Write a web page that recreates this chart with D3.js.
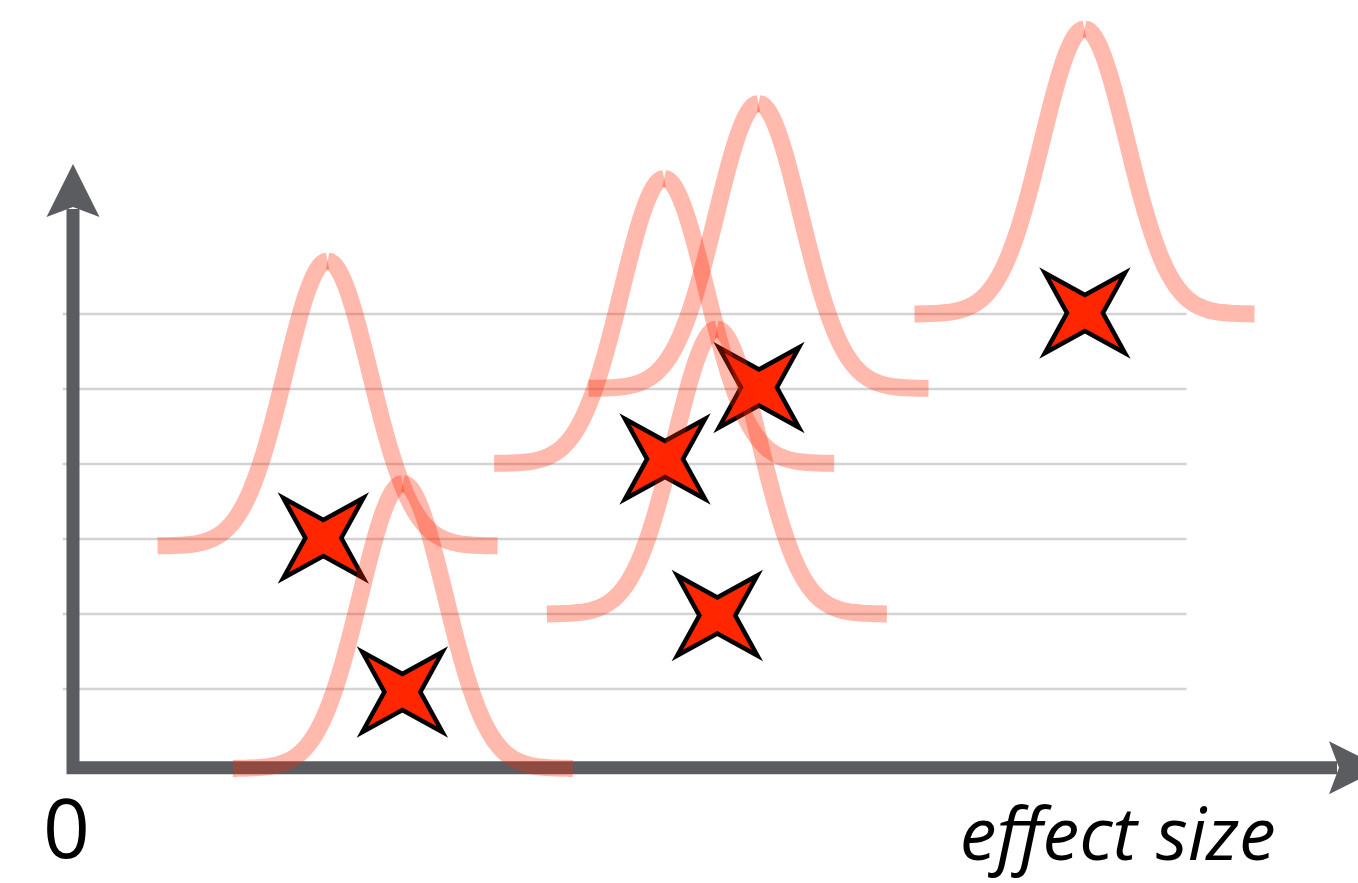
<!DOCTYPE html>
<html><head><meta charset="utf-8">
<script src="https://cdn.jsdelivr.net/npm/d3@7"></script>
<style>html,body{margin:0;padding:0;background:#fff;overflow:hidden}</style>
</head><body><svg id="chart" width="1358" height="883"></svg>
<script>
// ---- data ----
const gridLevels = [1, 2, 3, 4, 5, 6];
const curveCenters = [0.599, 0.776, 1.391, 1.613, 1.515, 2.380];
const curveBaselines = [2.907, -0.06, 4.007, 5.007, 2.0, 6.0];
const starX = [0.589, 0.775, 1.393, 1.614, 1.516, 2.381];
const starY = [3.013, 0.96, 4.067, 5.02, 1.98, 6.013];
const curveSigma = 0.1;
const curvePeak = 3.8;
const curveHalfWidth = 0.4;
const axisLevel = -0.05;
const yAxisTop = 8;
const xAxisEnd = 3.08;
const gridExtent = [-0.024, 2.62];
const originLabel = "0";
const axisTitle = "effect size";

// ---- scales ----
const W = 1358, H = 883;
const x = d3.scaleLinear().domain([0, 3]).range([73, 1348]);
const y = d3.scaleLinear().domain([0, 6]).range([764, 314]);

const svg = d3.select("#chart");
const axisColor = "#5b5c60";
const red = "#ff2600";

// gridlines
svg.append("g").selectAll("line").data(gridLevels).join("line")
  .attr("x1", x(gridExtent[0])).attr("x2", x(gridExtent[1]))
  .attr("y1", d => y(d)).attr("y2", d => y(d))
  .attr("stroke", "#d3d3d3").attr("stroke-width", 2.5);

// axes
const x0 = x(0), yA = y(axisLevel), yTip = y(yAxisTop), xTip = x(xAxisEnd);
const headLen = 53, headHalf = 26.5, notch = 10;
svg.append("path")
  .attr("d", d3.line()([[x0, yTip + headLen - notch + 2], [x0, yA], [xTip - headLen + notch - 2, yA]]))
  .attr("fill", "none").attr("stroke", axisColor).attr("stroke-width", 13)
  .attr("stroke-linejoin", "miter");
svg.append("path")
  .attr("d", d3.line()([[x0, yTip], [x0 + headHalf, yTip + headLen], [x0, yTip + headLen - notch], [x0 - headHalf, yTip + headLen]]) + "Z")
  .attr("fill", axisColor);
svg.append("path")
  .attr("d", d3.line()([[xTip, yA], [xTip - headLen, yA - headHalf], [xTip - headLen + notch, yA], [xTip - headLen, yA + headHalf]]) + "Z")
  .attr("fill", axisColor);

// stars
const R = 40, r = 18;
const starPath = d3.line()([[-R, -R], [0, -r], [R, -R], [r, 0], [R, R], [0, r], [-R, R], [-r, 0]]) + "Z";
svg.append("g").selectAll("path").data(starX.map((v, i) => [v, starY[i]])).join("path")
  .attr("d", starPath)
  .attr("transform", d => `translate(${x(d[0])},${y(d[1])})`)
  .attr("fill", red).attr("stroke", "#000").attr("stroke-width", 4.5)
  .attr("stroke-linejoin", "miter").attr("stroke-miterlimit", 10);

// curves (each drawn as two halves)
const line = d3.line().x(d => x(d[0])).y(d => y(d[1])).curve(d3.curveLinear);
const step = curveSigma / 16;
const halves = [];
curveCenters.forEach((c, i) => {
  const b = curveBaselines[i];
  const f = t => b + curvePeak * Math.exp(-((t - c) ** 2) / (2 * curveSigma ** 2));
  const left = [], right = [];
  const n = Math.round(curveHalfWidth / step);
  for (let k = 0; k <= n; k++) {
    const tl = c - curveHalfWidth + k * step;
    left.push([tl, f(tl)]);
    const tr = c + k * step;
    right.push([tr, f(tr)]);
  }
  halves.push(left, right);
});
svg.append("g").selectAll("path").data(halves).join("path")
  .attr("d", line)
  .attr("fill", "none").attr("stroke", red).attr("stroke-opacity", 0.32)
  .attr("stroke-width", 17).attr("stroke-linecap", "butt");

// labels
function fitBottom(t, maxBottom) {
  const bb = t.node().getBBox();
  const over = bb.y + bb.height - maxBottom;
  if (over > 0) t.attr("y", +t.attr("y") - over);
}
const t0 = svg.append("text").text(originLabel)
  .attr("x", x0 - 30).attr("y", 871)
  .attr("font-family", "Open Sans").attr("font-size", 82).attr("fill", "#000");
fitBottom(t0, 882);
const t1 = svg.append("text").text(axisTitle)
  .attr("x", x(2.83)).attr("y", 873).attr("text-anchor", "end")
  .attr("font-family", "Open Sans").attr("font-style", "italic")
  .attr("font-size", 80).attr("fill", "#000");
const w1 = t1.node().getComputedTextLength();
t1.attr("font-size", 80 * 316 / w1);
fitBottom(t1, 882);
</script></body></html>
